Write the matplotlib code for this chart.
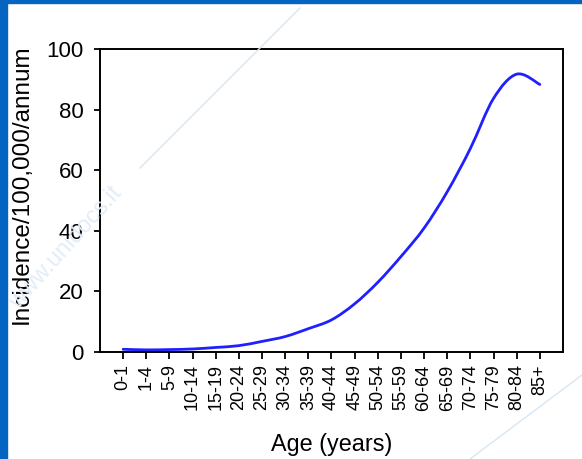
import matplotlib
matplotlib.use("Agg")
import matplotlib.pyplot as plt
import numpy as np
from matplotlib.path import Path
from matplotlib.patches import PathPatch

plt.rcParams['font.family'] = ['Liberation Sans', 'DejaVu Sans']

# Data
age_groups = ["0-1", "1-4", "5-9", "10-14", "15-19", "20-24", "25-29", "30-34",
              "35-39", "40-44", "45-49", "50-54", "55-59", "60-64", "65-69",
              "70-74", "75-79", "80-84", "85+"]
incidence = [0.9, 0.7, 0.8, 1.0, 1.5, 2.1, 3.5, 5.1, 7.7, 10.6, 15.9, 23.0,
             31.5, 40.9, 52.9, 67.2, 83.7, 91.7, 88.3]
y_ticks = [0, 20, 40, 60, 80, 100]


def smooth_path(xs, ys):
    # Excel-style smoothed line: cubic bezier through each data point
    p = np.column_stack([xs, ys]).astype(float)
    n = len(p)
    verts = [p[0]]
    codes = [Path.MOVETO]
    for i in range(n - 1):
        p0 = p[i - 1] if i > 0 else p[i]
        p3 = p[i + 2] if i + 2 < n else p[i + 1]
        c1 = p[i] + (p[i + 1] - p0) / 6
        c2 = p[i + 1] - (p3 - p[i]) / 6
        verts += [c1, c2, p[i + 1]]
        codes += [Path.CURVE4] * 3
    return Path(verts, codes)


fig = plt.figure(figsize=(5.82, 4.59), dpi=100)

# slide decoration: blue frame, faint watermark
fig.patches.append(plt.Rectangle((0, 0), 7 / 582, 1, transform=fig.transFigure,
                                 color="#0563c1", zorder=0))
fig.patches.append(plt.Rectangle((0, 1 - 3 / 459), 1, 3 / 459, transform=fig.transFigure,
                                 color="#0563c1", zorder=0))
fig.lines.append(plt.Line2D([140 / 582, 300 / 582], [1 - 168 / 459, 1 - 8 / 459],
                            transform=fig.transFigure, color="#d6e6f5", lw=1, zorder=0))
fig.lines.append(plt.Line2D([470 / 582, 582 / 582], [0, 1 - 375 / 459],
                            transform=fig.transFigure, color="#d6e6f5", lw=1, zorder=0))
fig.text(66 / 582, 1 - 248 / 459, "www.unidocs.it", rotation=48, color="#e2edf8",
         fontsize=17, ha="center", va="center", zorder=0)

ax = fig.add_axes([100 / 582, 1 - 352 / 459, 463 / 582, 303 / 459])
ax.patch.set_alpha(0)

x = np.arange(len(age_groups))
ax.add_patch(PathPatch(smooth_path(x, incidence), fill=False, edgecolor="#2020ff",
                       lw=2.0, capstyle="round", joinstyle="round"))

ax.set_xlim(-1, len(age_groups))
ax.set_ylim(0, 100)
ax.set_yticks(y_ticks)
ax.set_xticks(x)
ax.set_xticklabels(age_groups, rotation=90, fontsize=13)
ax.tick_params(axis="y", labelsize=16, length=4, width=1.3, pad=8)
ax.tick_params(axis="x", length=5, width=1.3, pad=4)

for s in ax.spines.values():
    s.set_linewidth(1.4)
    s.set_color("black")

ax.set_ylabel("Incidence/100,000/annum", fontsize=17.5)
ax.yaxis.set_label_coords(-0.145, 0.553)
ax.set_xlabel("Age (years)", fontsize=16.8, labelpad=16)

fig.savefig("out.png", dpi=100)
